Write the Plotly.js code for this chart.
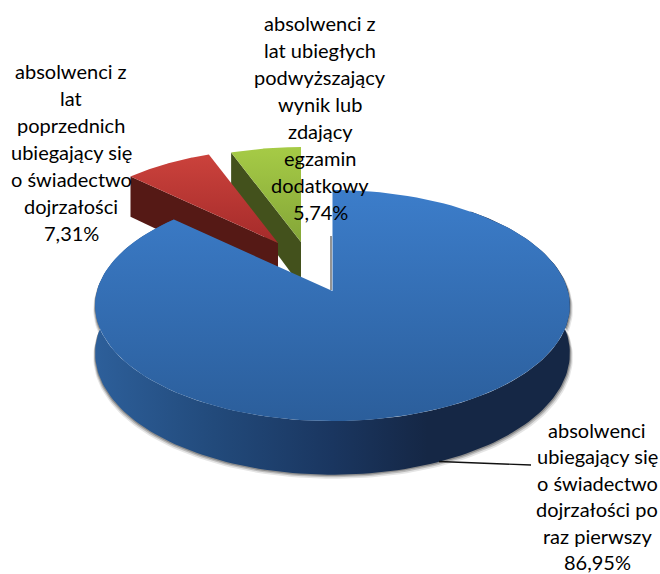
<!DOCTYPE html>
<html><head><meta charset="utf-8">
<script src="https://cdn.plot.ly/plotly-3.0.1.min.js"></script>
<style>html,body{margin:0;padding:0;background:#fff}</style></head>
<body><div id="chart" style="width:660px;height:574px"></div>
<script>
// Data
const categories = [
  "absolwenci ubiegający się o świadectwo dojrzałości po raz pierwszy",
  "absolwenci z lat poprzednich ubiegający się o świadectwo dojrzałości",
  "absolwenci z lat ubiegłych podwyższający wynik lub zdający egzamin dodatkowy"
];
const shares = [86.95, 7.31, 5.74];
const labelLines = [
  ["absolwenci","ubiegający się","o świadectwo","dojrzałości po","raz pierwszy"],
  ["absolwenci z","lat","poprzednich","ubiegający się","o świadectwo","dojrzałości"],
  ["absolwenci z","lat ubiegłych","podwyższający","wynik lub","zdający","egzamin","dodatkowy"]
];

// Perspective disc projection (pixel-space axes)
const A = 235.5, B = 113.7, P = 0.1256, DEPTH = 47;
const apex = [[332.5,291],[278,243],[301,242]];
const scale = [1, 0.93, 0.94];
const topGrad = [["#3c7dca","#2b5e9b"],["#cb423c","#a52b2a"],["#a6cb46","#84a638"]];
const sideCol = ["#1b3a66","#551915","#43511c"];
const labelPos = [[597,430],[71,71],[320,23]];
const lineStep = [26.4,27,27];

function rim(i, deg, drop){
  const t = deg*Math.PI/180, u = Math.sin(t), v = Math.cos(t), w = 1+P*v;
  return [apex[i][0] + scale[i]*A*u/w, apex[i][1] - scale[i]*B*v/w + (drop? scale[i]*DEPTH/w : 0)];
}
function poly(color, xs, ys, grad){
  const tr = {type:"scatter",mode:"lines",x:xs,y:ys,fill:"toself",line:{width:0,color:color},hoverinfo:"skip",showlegend:false,fillcolor:color};
  if(grad) tr.fillgradient = grad;
  return tr;
}
const total = shares.reduce((a,b)=>a+b,0);
const ranges = []; let acc = 0;
shares.forEach(s=>{ranges.push([acc/total*360,(acc+s)/total*360]); acc+=s;});

function topPts(i){
  const [a,b]=ranges[i], xs=[apex[i][0]], ys=[apex[i][1]];
  for(let d=a;d<=b+1e-6;d+=(b-a)/120){const p=rim(i,d,false);xs.push(p[0]);ys.push(p[1]);}
  xs.push(apex[i][0]);ys.push(apex[i][1]);
  return [xs,ys];
}
function cutFace(i){
  const a=ranges[i][0], p=rim(i,a,false), q=rim(i,a,true);
  const d = scale[i]*DEPTH;
  return [[apex[i][0],p[0],q[0],apex[i][0],apex[i][0]],[apex[i][1],p[1],q[1],apex[i][1]+d,apex[i][1]]];
}
function blueSide(){
  const xs=[],ys=[],[a,b]=ranges[0];
  for(let d=a+40;d<=b;d+=1.5){const p=rim(0,d,false);xs.push(p[0]);ys.push(p[1]);}
  for(let d=b;d>=a+40;d-=1.5){const p=rim(0,d,true);xs.push(p[0]);ys.push(p[1]);}
  return [xs,ys];
}
function vgrad(c){return {type:"vertical",colorscale:[[0,c[1]],[1,c[0]]]};}

const traces=[];
const bs=blueSide();
// soft drop shadow under the disc
[[3,4,"rgba(0,0,0,0.10)"],[2,2.5,"rgba(0,0,0,0.18)"],[1,1.2,"rgba(0,0,0,0.25)"]].forEach(s=>{
  traces.push(poly(s[2],bs[0].map(v=>v+(v>332?s[0]:-s[0]*0.6)),bs[1].map(v=>v+s[1])));
});
[2,1].forEach(i=>{
  const c=cutFace(i);
  traces.push(poly(sideCol[i],c[0],c[1]));
  const t=topPts(i);
  traces.push(poly(topGrad[i][0],t[0],t[1],vgrad(topGrad[i])));
});
traces.push(poly("#1b3a66",bs[0],bs[1],{type:"horizontal",colorscale:[[0,"#2d5f9a"],[0.25,"#224a7b"],[0.5,"#1a3660"],[0.7,"#152745"],[1,"#152745"]]}));
const bt=topPts(0);
traces.push(poly(topGrad[0][0],bt[0],bt[1],vgrad(topGrad[0])));
// thin shade along the cut edge of the largest slice
traces.push({type:"scatter",mode:"lines",x:[331,331],y:[236,290],line:{color:"rgba(60,60,60,0.55)",width:2},hoverinfo:"skip",showlegend:false});
// Leader line from the largest slice to its label
traces.push({type:"scatter",mode:"lines",x:[439,531],y:[461.5,465],line:{color:"#111",width:1.4},hoverinfo:"skip",showlegend:false});

const annotations=[];
labelLines.forEach((ls,i)=>{
  const all=ls.concat([shares[i].toFixed(2).replace(".",",")+"%"]);
  all.forEach((txt,j)=>annotations.push({x:labelPos[i][0],y:labelPos[i][1]+j*lineStep[i],xref:"x",yref:"y",text:txt,showarrow:false,xanchor:"center",yanchor:"middle",font:{family:"Lato, sans-serif",size:20,color:"#000"}}));
});
const layout={width:660,height:574,margin:{l:0,r:0,t:0,b:0},paper_bgcolor:"#fff",plot_bgcolor:"#fff",showlegend:false,
  xaxis:{range:[0,660],visible:false,fixedrange:true},yaxis:{range:[574,0],visible:false,fixedrange:true},annotations};
Plotly.newPlot("chart",traces,layout,{displayModeBar:false,staticPlot:true});
</script></body></html>
